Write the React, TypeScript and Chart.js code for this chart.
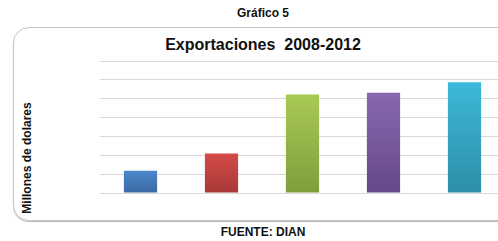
import React, { useEffect, useRef } from "react";
import { Chart, registerables } from "chart.js";

Chart.register(...registerables);

const years = ["2008", "2009", "2010", "2011", "2012"];
const exportsValues = [1.18, 2.1, 5.23, 5.32, 5.87];
const topColors = ["#4b88cb", "#d44b47", "#a8ca55", "#8768ae", "#3db8d8"];
const bottomColors = ["#3a68a3", "#a63937", "#7e9e3c", "#654889", "#2d8fa8"];
const axisMax = 7;

export default function App() {
  const ref = useRef<HTMLCanvasElement | null>(null);

  useEffect(() => {
    if (!ref.current) return;
    const chart = new Chart(ref.current, {
      type: "bar",
      data: {
        labels: years,
        datasets: [
          {
            data: exportsValues,
            backgroundColor: (ctx: any) => {
              const c = ctx.chart;
              const i = ctx.dataIndex;
              const ys = c.scales && c.scales.y;
              if (!c.chartArea || !ys || i === undefined) return topColors[i ?? 0];
              const top = ys.getPixelForValue(exportsValues[i]);
              const bot = ys.getPixelForValue(0);
              const g = c.ctx.createLinearGradient(0, top, 0, bot);
              g.addColorStop(0, topColors[i]);
              g.addColorStop(1, bottomColors[i]);
              return g;
            },
            borderWidth: 0,
            categoryPercentage: 1,
            barPercentage: 0.41,
          },
        ],
      },
      options: {
        animation: false,
        responsive: false,
        maintainAspectRatio: false,
        layout: { padding: { top: 5, bottom: 5, left: 0, right: 15 } },
        plugins: { legend: { display: false }, tooltip: { enabled: false }, title: { display: false } },
        scales: {
          x: {
            grid: { display: false, drawTicks: false },
            border: { display: false },
            ticks: { display: false },
            afterFit: (s: any) => { s.height = 0; },
          },
          y: {
            min: 0,
            max: axisMax,
            ticks: { display: false, stepSize: 1 },
            grid: { color: "#d9d9d9", lineWidth: 1, drawTicks: false, tickLength: 0 },
            border: { display: false },
            afterFit: (s: any) => { s.width = 0; },
          },
        },
      },
    });
    return () => chart.destroy();
  }, []);

  const font = "'Liberation Sans', Arial, sans-serif";
  return (
    <div style={{ position: "fixed", left: 0, top: 0, width: 498, height: 241, overflow: "hidden", background: "#fff", fontFamily: font, color: "#111" }}>
      <div style={{ position: "absolute", left: 0, width: 526, top: 6, textAlign: "center", fontSize: 12, fontWeight: "bold" }}>Gráfico 5</div>
      <div style={{ position: "absolute", left: 13, top: 27, width: 540, height: 192, border: "1px solid #c4c4c4", borderRadius: 16, boxShadow: "0 1px 1px #b8b8b8" }} />
      <div style={{ position: "absolute", left: 0, width: 526, top: 36, textAlign: "center", fontSize: 16, fontWeight: "bold", whiteSpace: "pre" }}>Exportaciones  2008-2012</div>
      <div style={{ position: "absolute", left: 27, top: 158, width: 0, height: 0 }}>
        <div style={{ position: "absolute", left: -60, top: -8, width: 120, lineHeight: "16px", textAlign: "center", fontSize: 12, fontWeight: "bold", transform: "rotate(-90deg)", whiteSpace: "nowrap" }}>Millones de dolares</div>
      </div>
      <canvas ref={ref} width={420} height={142} style={{ position: "absolute", left: 100, top: 56, width: 420, height: 142 }} />
      <div style={{ position: "absolute", left: 0, width: 526, top: 225, textAlign: "center", fontSize: 12, fontWeight: "bold" }}>FUENTE: DIAN</div>
    </div>
  );
}
